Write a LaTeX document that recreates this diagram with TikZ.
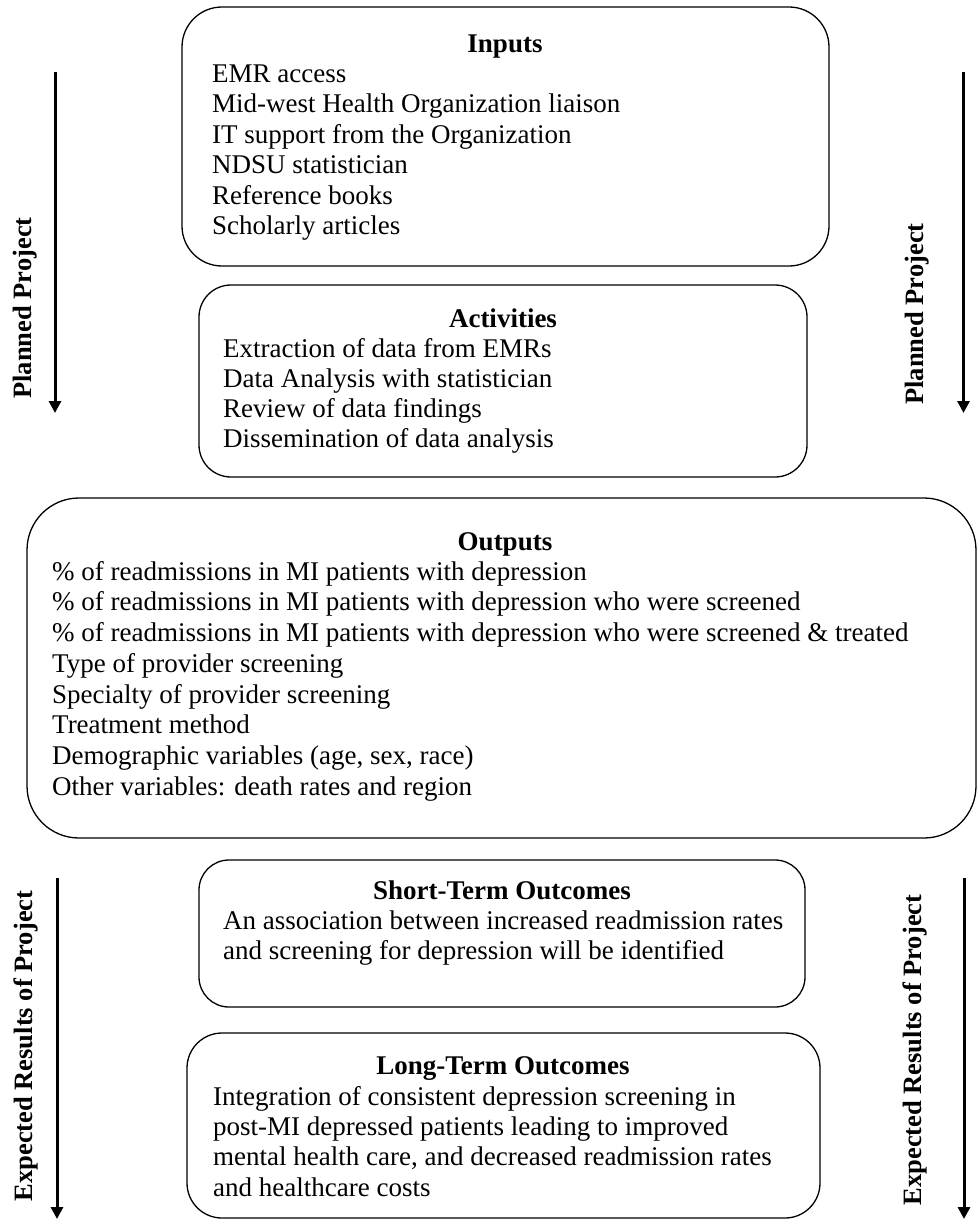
\documentclass[tikz,border=0pt]{standalone}
\usepackage{fontspec}
\setmainfont{Liberation Serif}
\usetikzlibrary{arrows.meta}
\newcommand\lstrut{\rule{0pt}{20pt}}
\begin{document}
\begin{tikzpicture}[x=1pt,y=-1pt,
  box/.style={draw, line width=1.3pt, rounded corners=#1, inner sep=0pt},
  ttl/.style={font=\fontsize{27}{30.5}\selectfont\bfseries, inner sep=0pt, anchor=base},
  body/.style={font=\fontsize{27}{#1}\selectfont, align=left, anchor=north west, inner sep=0pt},
  body/.default=30.5,
  side/.style={font=\fontsize{26.5}{30.5}\selectfont\bfseries, inner sep=0pt, rotate=90},
  arr/.style={line width=3pt, -{Triangle[length=12pt,width=12pt]}}]
\useasboundingbox (0,0) rectangle (977,1220);

% boxes
\node[box=40pt, minimum width=647pt, minimum height=259pt] (inputs) at (505.5,136.5) {};
\node[box=32pt, minimum width=608pt, minimum height=192pt] (activities) at (503,381) {};
\node[box=52pt, minimum width=949pt, minimum height=340pt] (outputs) at (501.5,668) {};
\node[box=30pt, minimum width=606pt, minimum height=147pt] (short) at (502,933.5) {};
\node[box=35pt, minimum width=633pt, minimum height=185pt] (long) at (503.5,1125.5) {};

% titles
\node[ttl] (inputsT) at (505,53) {Inputs};
\node[ttl] (activitiesT) at (503,327) {Activities};
\node[ttl] (outputsT) at (505,550) {Outputs};
\node[ttl] (shortT) at (502,899) {Short-Term Outcomes};
\node[ttl] (longT) at (503,1074) {Long-Term Outcomes};

% bodies
\node[body=30.5] (inputsB) at (212,62) {\lstrut EMR access\\Mid-west Health Organization liaison\\IT support from the Organization\\NDSU statistician\\Reference books\\Scholarly articles};
\node[body=30] (activitiesB) at (223,337) {\lstrut Extraction of data from EMRs\\Data Analysis with statistician\\Review of data findings\\Dissemination of data analysis};
\node[body=30.7] (outputsB) at (52,560) {\lstrut \% of readmissions in MI patients with depression\\\% of readmissions in MI patients with depression who were screened\\\% of readmissions in MI patients with depression who were screened \& treated\\Type of provider screening\\Specialty of provider screening\\Treatment method\\Demographic variables (age, sex, race)\\Other variables: death rates and region};
\node[body=30] (shortB) at (223,909) {\lstrut An association between increased readmission rates\\and screening for depression will be identified};
\node[body=30.3] (longB) at (213,1085) {\lstrut Integration of consistent depression screening in\\post-MI depressed patients leading to improved\\mental health care, and decreased readmission rates\\and healthcare costs};

% arrows
\coordinate (plA) at (55,72);
\coordinate (plB) at (55,413);
\coordinate (prA) at (963.5,72);
\coordinate (prB) at (963.5,413);
\coordinate (elA) at (57,878);
\coordinate (elB) at (57,1219);
\coordinate (erA) at (964,878);
\coordinate (erB) at (964,1219);
\draw[arr] (plA) -- (plB);
\draw[arr] (prA) -- (prB);
\draw[arr] (elA) -- (elB);
\draw[arr] (erA) -- (erB);

% side labels
\node[side] (plL) at (25,308) {Planned Project};
\node[side] (prL) at (917,314) {Planned Project};
\node[side] (elL) at (26,1046) {Expected Results of Project};
\node[side] (erL) at (915,1050) {Expected Results of Project};
\end{tikzpicture}
\end{document}
